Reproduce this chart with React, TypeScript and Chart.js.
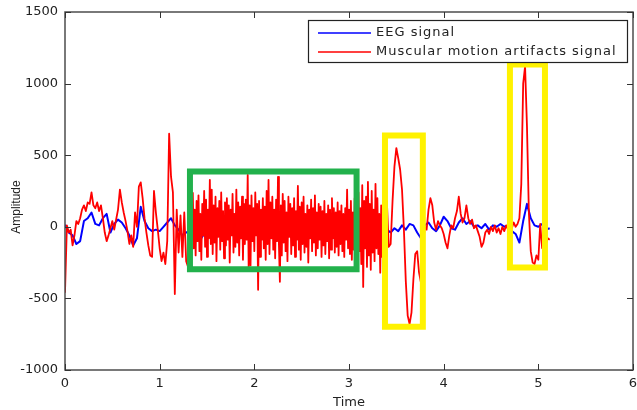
import React, { useEffect, useRef } from 'react';
import { Chart, registerables } from 'chart.js';

Chart.register(...registerables);

const seriesLabels = ['EEG signal', 'Muscular motion artifacts signal'];
const xAxisTitle = 'Time';
const yAxisTitle = 'Amplitude';

// EEG signal (blue): sampled every EEG_DT seconds from t = 0
const EEG_DT = 0.04;
const eegSignal = [
  15, -40, -60, -120, -100, 40, 60, 100, 20, 10,
  60, 90, -40, 20, 50, 30, -10, -60, -130, -80,
  140, 40, -10, -30, -20, -30, 0, 30, 60, 10,
  -20, -60, -40, -30, -70, -50, -80, -40, 0, 30,
  -10, 20, -20, 30, -20, -30, 60, 20, -10, 30,
  -20, 0, 20, -30, 10, -20, -10, 20, -10, 30,
  40, 0, -30, -10, 20, 40, 60, 70, 20, -30,
  -20, 10, 60, 60, 20, -10, 20, 0, -10, 20,
  60, 40, 10, 0, -10, -20, -40, -10, -30, 10,
  -20, 20, 10, -40, -80, 10, 30, -10, -30, 10,
  70, 40, -10, -20, 30, 60, 20, 40, 0, 10,
  -10, 20, -20, 10, 0, 20, 0, 10, -30, -50,
  -110, 40, 160, 60, 10, 0, 20, -20, -10,
];

// Muscular motion artifacts signal (red), read in three stretches
// part 1: t = 0 .. 1.28, every 0.02 s
const muscleStart1 = 0;
const muscleDt1 = 0.02;
const muscularPart1 = [
  -460, 10, -40, -20, -130, -60, 40, 20, 60, 120,
  150, 110, 170, 160, 240, 150, 130, 170, 110, 150,
  60, -40, -100, -60, -10, 40, -20, 50, 120, 260,
  170, 100, 40, -30, -120, -60, -140, 100, 0, 280,
  310, 200, 60, -40, -130, -200, -210, 250, 100, -20,
  -150, -240, -180, -260, -100, 650, 350, 240, -470, 120,
  -180, 80, -210, 100, -240,
];
// part 2: t = 1.30 .. 3.40, every 0.01 s (dense noisy stretch)
const muscleStart2 = 1.3;
const muscleDt2 = 0.01;
const muscularPart2 = [
  -280, 150, -120, 200, -90, 237, -150, 120, -200, 180,
  -100, 220, -170, 90, -230, 160, -60, 250, -140, 190,
  -210, 120, -80, 328, -120, 260, -190, 150, -110, 210,
  -240, 130, -70, 180, -160, 240, -100, 110, -220, 170,
  -130, 200, -90, 150, -250, 120, -60, 230, -180, 90,
  -140, 260, -110, 170, -200, 140, -80, 210, -230, 160,
  -120, 190, -90, 363, -280, 150, -270, 220, -100, 130,
  -170, 240, -60, 160, -440, 180, -210, 120, -90, 200,
  -150, 140, -230, 250, -120, 328, -190, 170, -80, 210,
  -160, 120, -220, 190, -100, 349, -130, -384, 150, -200,
  230, -110, 180, -170, 100, -240, 210, -70, 160, -190,
  130, -130, 200, -210, 110, -90, 286, -160, 140, -230,
  170, -120, 210, -180, 90, -140, 150, -250, 120, -80,
  190, -170, 130, -110, 220, -200, 100, -150, 160, -90,
  140, -210, 110, -130, 180, -190, 90, -100, 150, -220,
  120, -160, 200, -80, 130, -180, 100, -140, 170, -200,
  110, -120, 150, -170, 90, -210, 130, -90, 260, -150,
  120, -190, 180, -230, 100, -160, 200, -120, 150, -200,
  240, -170, 130, -260, 290, -420, 180, -150, 210, -280,
  314, -200, 160, -300, 250, -180, 120, -240, 300, -150,
  200, -190, 90, -320, 150, -210, 80, -130, 40, -120,
  180,
];
// part 3: t = 3.42 .. 5.12, every 0.02 s
const muscleStart3 = 3.42;
const muscleDt3 = 0.02;
const muscularPart3 = [
  -140, -120, 180, 420, 550, 480, 400, 260, -20,
  -380, -620, -680, -600, -370, -190, -170, -320, -390, -150,
  0, -20, 120, 200, 150, 30, -20, 40, 10, -10,
  -50, -110, -150, -60, 10, -10, 60, 110, 210, 90,
  30, 60, 150, 60, 20, 50, -10, 10, -30, -70,
  -140, -110, -40, -20, -50, 0, -30, 10, -40, -10,
  -50, 0, -30, 10, -20, 20, -10, 30, 0, 20,
  60, 300, 1000, 1120, 700, 100, -170, -250, -260, -200,
  -230, 20, -150, -60, -120, -80, -90,
];

// Axis ticks
const xTicks = [0, 1, 2, 3, 4, 5, 6];
const yTicks = [-1000, -500, 0, 500, 1000, 1500];

// Highlight boxes: [start, end] time and [low, high] amplitude
const greenBoxTime = [1.32, 3.08];
const greenBoxAmp = [-297, 387];
const yellowBox1Time = [3.38, 3.78];
const yellowBox1Amp = [-698, 637];
const yellowBox2Time = [4.7, 5.07];
const yellowBox2Amp = [-284, 1133];

const toPoints = (values: number[], start: number, dt: number) =>
  values.map((v, i) => ({ x: +(start + i * dt).toFixed(4), y: v }));

const rect = (t: number[], a: number[]) => [
  { x: t[0], y: a[1] },
  { x: t[1], y: a[1] },
  { x: t[1], y: a[0] },
  { x: t[0], y: a[0] },
  { x: t[0], y: a[1] },
];

const framePlugin = {
  id: 'matlabFrame',
  afterDatasetsDraw(chart: any) {
    const { ctx, chartArea } = chart;
    const { left, right, top, bottom } = chartArea;
    const xs = chart.scales.x;
    const ys = chart.scales.y;
    ctx.save();
    ctx.strokeStyle = '#4d4d4d';
    ctx.lineWidth = 1.5;
    ctx.strokeRect(left, top, right - left, bottom - top);
    ctx.lineWidth = 1;
    ctx.strokeStyle = '#333';
    ctx.beginPath();
    for (const t of xs.ticks) {
      const px = Math.round(xs.getPixelForValue(t.value)) + 0.5;
      ctx.moveTo(px, bottom);
      ctx.lineTo(px, bottom - 6);
      ctx.moveTo(px, top);
      ctx.lineTo(px, top + 6);
    }
    for (const t of ys.ticks) {
      const py = Math.round(ys.getPixelForValue(t.value)) + 0.5;
      ctx.moveTo(left, py);
      ctx.lineTo(left + 6, py);
      ctx.moveTo(right, py);
      ctx.lineTo(right - 6, py);
    }
    ctx.stroke();

    // y axis title, rotated
    ctx.save();
    ctx.translate(17, 207);
    ctx.rotate(-Math.PI / 2);
    ctx.font = '12px "Liberation Sans"';
    ctx.fillStyle = '#222';
    ctx.textAlign = 'center';
    ctx.textBaseline = 'middle';
    ctx.fillText(yAxisTitle, 0, 0);
    ctx.restore();

    // legend box
    const lx = 308.5, ly = 20.5, lw = 319, lh = 42;
    ctx.fillStyle = '#ffffff';
    ctx.fillRect(lx, ly, lw, lh);
    ctx.strokeStyle = '#222';
    ctx.lineWidth = 1.2;
    ctx.strokeRect(lx, ly, lw, lh);
    const rows = [33, 52];
    ctx.font = '13px "DejaVu Sans"';
    ctx.textBaseline = 'middle';
    ctx.textAlign = 'left';
    try { (ctx as any).letterSpacing = '1px'; } catch (e) { /* ignore */ }
    for (let i = 0; i < 2; i++) {
      const ds = chart.data.datasets[i];
      ctx.strokeStyle = ds.borderColor;
      ctx.lineWidth = 1.5;
      ctx.beginPath();
      ctx.moveTo(318, rows[i]);
      ctx.lineTo(371, rows[i]);
      ctx.stroke();
      ctx.fillStyle = '#222';
      ctx.fillText(ds.label, 376, rows[i]);
    }
    ctx.restore();
  },
};

const boxDataset = (label: string, t: number[], a: number[], color: string) => ({
  label,
  data: rect(t, a),
  borderColor: color,
  borderWidth: 6,
  pointRadius: 0,
  tension: 0,
  borderJoinStyle: 'miter',
  borderCapStyle: 'square',
  order: 0,
});

export default function App() {
  const ref = useRef<HTMLCanvasElement>(null);
  useEffect(() => {
    document.body.style.margin = '0';
    if (!ref.current) return;
    const muscular = [
      ...toPoints(muscularPart1, muscleStart1, muscleDt1),
      ...toPoints(muscularPart2, muscleStart2, muscleDt2),
      ...toPoints(muscularPart3, muscleStart3, muscleDt3),
    ];
    const chart = new Chart(ref.current, {
      type: 'line',
      data: {
        datasets: [
          {
            label: seriesLabels[0],
            data: toPoints(eegSignal, 0, EEG_DT),
            borderColor: '#0000ff',
            borderWidth: 2,
            pointRadius: 0,
            tension: 0,
            borderJoinStyle: 'round',
            order: 2,
          },
          {
            label: seriesLabels[1],
            data: muscular,
            borderColor: '#ff0000',
            borderWidth: 1.8,
            pointRadius: 0,
            tension: 0,
            borderJoinStyle: 'round',
            order: 1,
          },
          boxDataset('green box', greenBoxTime, greenBoxAmp, '#22b14c'),
          boxDataset('yellow box 1', yellowBox1Time, yellowBox1Amp, '#fff200'),
          boxDataset('yellow box 2', yellowBox2Time, yellowBox2Amp, '#fff200'),
        ],
      } as any,
      options: {
        responsive: false,
        animation: false,
        devicePixelRatio: 1,
        layout: { padding: { left: 0, right: 4, top: 12, bottom: 0 } },
        plugins: {
          legend: { display: false },
          tooltip: { enabled: false },
        },
        scales: {
          x: {
            type: 'linear',
            min: 0,
            max: 6,
            afterBuildTicks: (s: any) => { s.ticks = xTicks.map((v) => ({ value: v })); },
            afterFit: (s: any) => { s.height = 40; s.paddingLeft = 0; s.paddingRight = 0; },
            grid: { display: false, drawTicks: false },
            border: { display: false },
            ticks: {
              padding: 6,
              color: '#222',
              font: { family: 'DejaVu Sans', size: 13 },
              maxRotation: 0,
              callback: (v: any) => String(v),
            },
            title: {
              display: true,
              text: xAxisTitle,
              color: '#222',
              font: { family: 'DejaVu Sans', size: 13 },
              padding: { top: 0, bottom: 0 },
            },
          },
          y: {
            type: 'linear',
            min: -1000,
            max: 1500,
            afterBuildTicks: (s: any) => { s.ticks = yTicks.map((v) => ({ value: v })); },
            afterFit: (s: any) => { s.width = 65; s.paddingTop = 0; s.paddingBottom = 0; },
            grid: { display: false, drawTicks: false },
            border: { display: false },
            ticks: {
              padding: 7,
              color: '#222',
              font: { family: 'DejaVu Sans', size: 13 },
              callback: (v: any) => String(v),
            },
            title: { display: false },
          },
        },
      } as any,
      plugins: [framePlugin],
    });
    return () => chart.destroy();
  }, []);
  return (
    <div style={{ width: 637, height: 410 }}>
      <canvas ref={ref} width={637} height={410} style={{ display: 'block' }} />
    </div>
  );
}
